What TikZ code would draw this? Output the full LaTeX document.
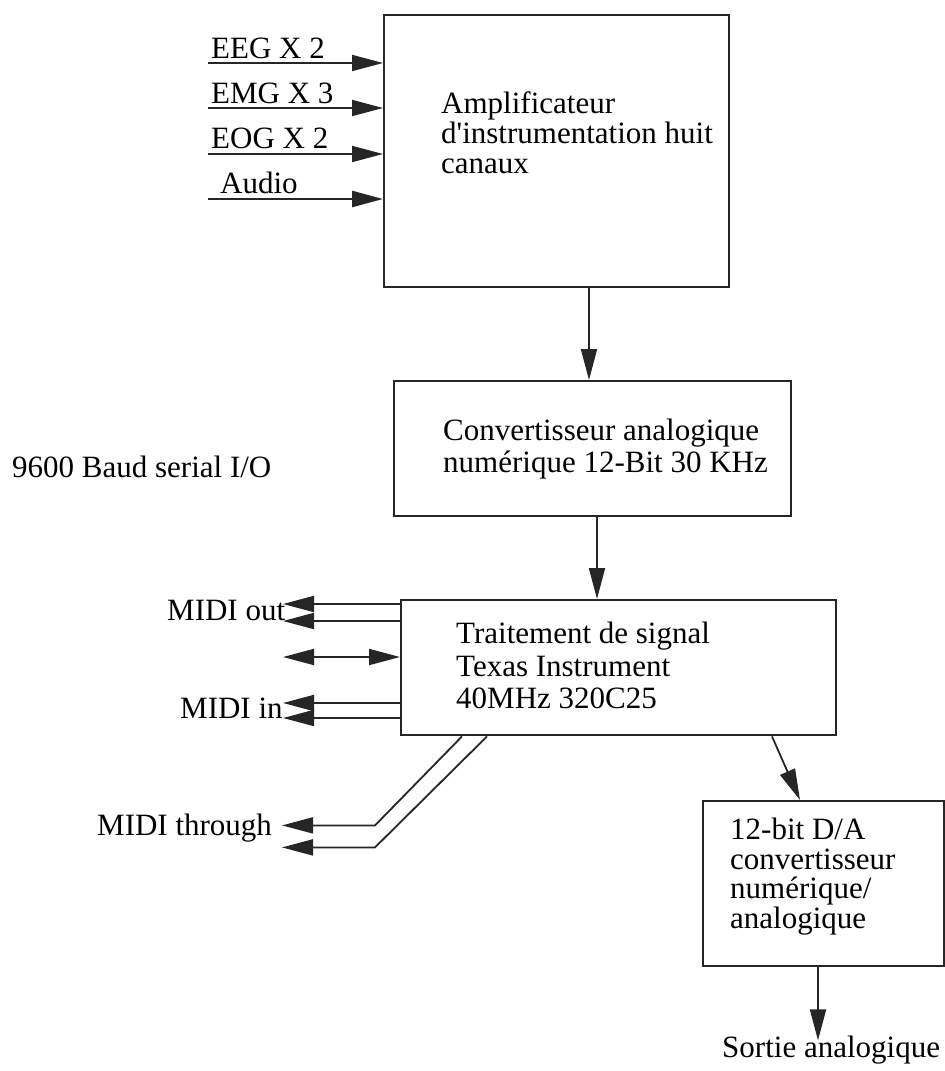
\documentclass[tikz,border=0pt]{standalone}
\usepackage{fontspec}
\setmainfont{Liberation Serif}
\usetikzlibrary{arrows.meta,calc}
\definecolor{ink}{RGB}{38,38,38}
\begin{document}
\begin{tikzpicture}[x=1pt,y=-1pt,
  box/.style={draw=ink,line width=2.4pt,inner sep=0pt,anchor=north west},
  lbl/.style={inner sep=0pt,anchor=base west,font=\fontsize{31}{31}\selectfont},
  txt/.style={inner sep=0pt,align=left,anchor=north west},
  wire/.style={draw=ink,line width=1.8pt},
  tip/.style={-{Triangle[length=31pt,width=16pt]}},
  arr/.style={wire,tip},
]
\useasboundingbox[fill=white] (0,0) rectangle (945,1071);

% boxes
\node[box,minimum width=345pt,minimum height=272pt] (amp) at (383,14) {};
\node[box,minimum width=397pt,minimum height=135pt] (adc) at (393,380) {};
\node[box,minimum width=435pt,minimum height=135pt] (dsp) at (400,599) {};
\node[box,minimum width=241pt,minimum height=165pt] (dac) at (702,800) {};

% box texts
\node[txt,font=\fontsize{31}{30}\selectfont] (ampt) at (441,91)
  {Amplificateur\\d\textquotesingle instrumentation huit\\canaux};
\node[txt,font=\fontsize{31}{32}\selectfont] (adct) at (443,419)
  {Convertisseur analogique\\numérique 12-Bit 30 KHz};
\node[txt,font=\fontsize{31}{32.5}\selectfont] (dspt) at (456,622)
  {Traitement de signal\\Texas Instrument\\40MHz 320C25};
\node[txt,font=\fontsize{31}{29.5}\selectfont] (dact) at (730,818)
  {12-bit D/A\\convertisseur\\numérique/\\analogique};

% input labels
\node[lbl] (leeg) at (211,58) {EEG X 2};
\node[lbl] (lemg) at (211,103) {EMG X 3};
\node[lbl] (leog) at (211,148) {EOG X 2};
\node[lbl] (laud) at (220,193) {Audio};

% inputs
\coordinate (i1) at (208,63);
\coordinate (i2) at (208,108);
\coordinate (i3) at (208,154);
\coordinate (i4) at (208,199);
\draw[arr] (i1) -- (i1 -| amp.west);
\draw[arr] (i2) -- (i2 -| amp.west);
\draw[arr] (i3) -- (i3 -| amp.west);
\draw[arr,line width=2.6pt] (i4) -- (i4 -| amp.west);

% vertical chain
\coordinate (x1) at (589,0);
\coordinate (x2) at (597,0);
\draw[arr] (x1 |- amp.south) -- (x1 |- adc.north);
\draw[arr] (x2 |- adc.south) -- (x2 |- dsp.north);

% serial label
\node[lbl] (baud) at (12,477) {9600 Baud serial I/O};

% MIDI labels
\node[lbl] (mout) at (167,620) {MIDI out};
\node[lbl] (min) at (180,718) {MIDI in};
\node[lbl] (mthr) at (97,835) {MIDI through};

% MIDI arrows
\coordinate (mx) at (283,0);
\coordinate (y1) at (0,604);
\coordinate (y2) at (0,621);
\coordinate (y3) at (0,657);
\coordinate (y4) at (0,703);
\coordinate (y5) at (0,718);
\draw[arr] (dsp.west |- y1) -- (mx |- y1);
\draw[arr] (dsp.west |- y2) -- (mx |- y2);
\draw[wire,{Triangle[length=31pt,width=16pt]}-{Triangle[length=31pt,width=16pt]}] (mx |- y3) -- (dsp.west |- y3);
\draw[arr] (dsp.west |- y4) -- (mx |- y4);
\draw[arr] (dsp.west |- y5) -- (mx |- y5);

% MIDI through
\draw[arr] ($(dsp.south west)+(62,0)$) -- ++(-87,89) -- ++(-93,0);
\draw[arr] ($(dsp.south west)+(87,0)$) -- ++(-112,111) -- ++(-93,0);

% to DAC
\draw[arr] ($(dsp.south west)+(372,0)$) -- ($(dac.north west)+(98,0)$);

% output
\coordinate (out) at ($(dac.south west)+(116,73)$);
\draw[arr] (out |- dac.south) -- (out);
\node[lbl] (sortie) at (722,1057) {Sortie analogique};
\end{tikzpicture}
\end{document}
